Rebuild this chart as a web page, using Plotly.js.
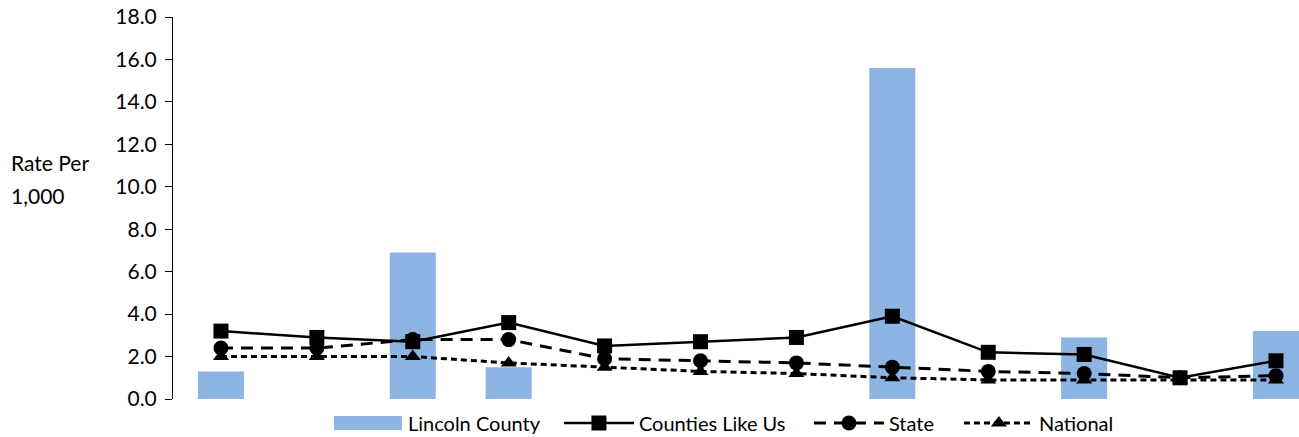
<!DOCTYPE html>
<html>
<head>
<meta charset="utf-8">
<script src="https://cdn.plot.ly/plotly-3.0.1.min.js"></script>
<style>
  html, body { margin: 0; padding: 0; background: #ffffff; }
  #chart { width: 1299px; height: 437px; }
</style>
</head>
<body>
<div id="chart"></div>
<script>
const categories = ["1", "2", "3", "4", "5", "6", "7", "8", "9", "10", "11", "12"];
const lincolnCounty = [1.3, null, 6.9, 1.5, null, null, null, 15.6, null, 2.9, null, 3.2];
const countiesLikeUs = [3.2, 2.9, 2.7, 3.6, 2.5, 2.7, 2.9, 3.9, 2.2, 2.1, 1.0, 1.8];
const state = [2.4, 2.4, 2.8, 2.8, 1.9, 1.8, 1.7, 1.5, 1.3, 1.2, 1.0, 1.1];
const national = [2.0, 2.0, 2.0, 1.7, 1.5, 1.3, 1.2, 1.0, 0.9, 0.9, 0.9, 0.9];
const yTicks = [0, 2, 4, 6, 8, 10, 12, 14, 16, 18];

const FONT = "Lato, 'Open Sans', sans-serif";

const traces = [
  {
    type: "bar", name: "Lincoln County", x: categories, y: lincolnCounty,
    marker: { color: "#8DB4E2" }, width: 0.48, legendwidth: 146
  },
  {
    type: "scatter", mode: "lines+markers", name: "Counties Like Us",
    x: categories, y: countiesLikeUs,
    line: { color: "#000000", width: 2.5 },
    marker: { symbol: "square", size: 15, color: "#000000" }, legendwidth: 165
  },
  {
    type: "scatter", mode: "lines+markers", name: "State",
    x: categories, y: state,
    line: { color: "#000000", width: 3, dash: "12px,8px" },
    marker: { symbol: "circle", size: 15, color: "#000000" }, legendwidth: 65
  },
  {
    type: "scatter", mode: "lines+markers", name: "National",
    x: categories, y: national,
    line: { color: "#000000", width: 3, dash: "6px,4px" },
    marker: { symbol: "triangle-up", size: 14, color: "#000000" }, legendwidth: 80
  }
];

const layout = {
  width: 1299, height: 437,
  margin: { l: 173, r: 0, t: 17, b: 38, autoexpand: false },
  paper_bgcolor: "#ffffff", plot_bgcolor: "#ffffff",
  font: { family: FONT, size: 20, color: "#000000" },
  showlegend: true,
  legend: {
    orientation: "h", x: 0.1376, xanchor: "left", y: -0.063, yanchor: "middle",
    font: { family: FONT, size: 20, color: "#000000" },
    itemwidth: 70, traceorder: "normal", bgcolor: "rgba(0,0,0,0)"
  },
  xaxis: {
    type: "category", range: [-0.5, 11.24],
    showticklabels: false, showline: false, showgrid: false, zeroline: false, ticks: ""
  },
  yaxis: {
    range: [0, 18], tickvals: yTicks, tickformat: ".1f",
    showline: true, linecolor: "#000000", linewidth: 1,
    ticks: "outside", ticklen: 7, tickcolor: "#000000", ticklabelstandoff: 4,
    showgrid: false, zeroline: false,
    tickfont: { family: FONT, size: 21, color: "#000000" }
  },
  annotations: [
    { text: "Rate Per", xref: "paper", yref: "paper", x: -0.146, y: 0.618, xanchor: "left", yanchor: "middle",
      showarrow: false, font: { family: FONT, size: 21, color: "#000000" } },
    { text: "1,000", xref: "paper", yref: "paper", x: -0.146, y: 0.532, xanchor: "left", yanchor: "middle",
      showarrow: false, font: { family: FONT, size: 21, color: "#000000" } }
  ]
};

Plotly.newPlot("chart", traces, layout, { displayModeBar: false, staticPlot: true }).then(function (gd) {
  // widen the bar swatch in the legend to a wide rectangle, like the original
  const sw = gd.querySelectorAll(".legend .traces")[0];
  if (sw) {
    const p = sw.querySelector(".legendpoints path");
    if (p) p.setAttribute("d", "M34,7H-34V-7H34Z");
  }
});
</script>
</body>
</html>
